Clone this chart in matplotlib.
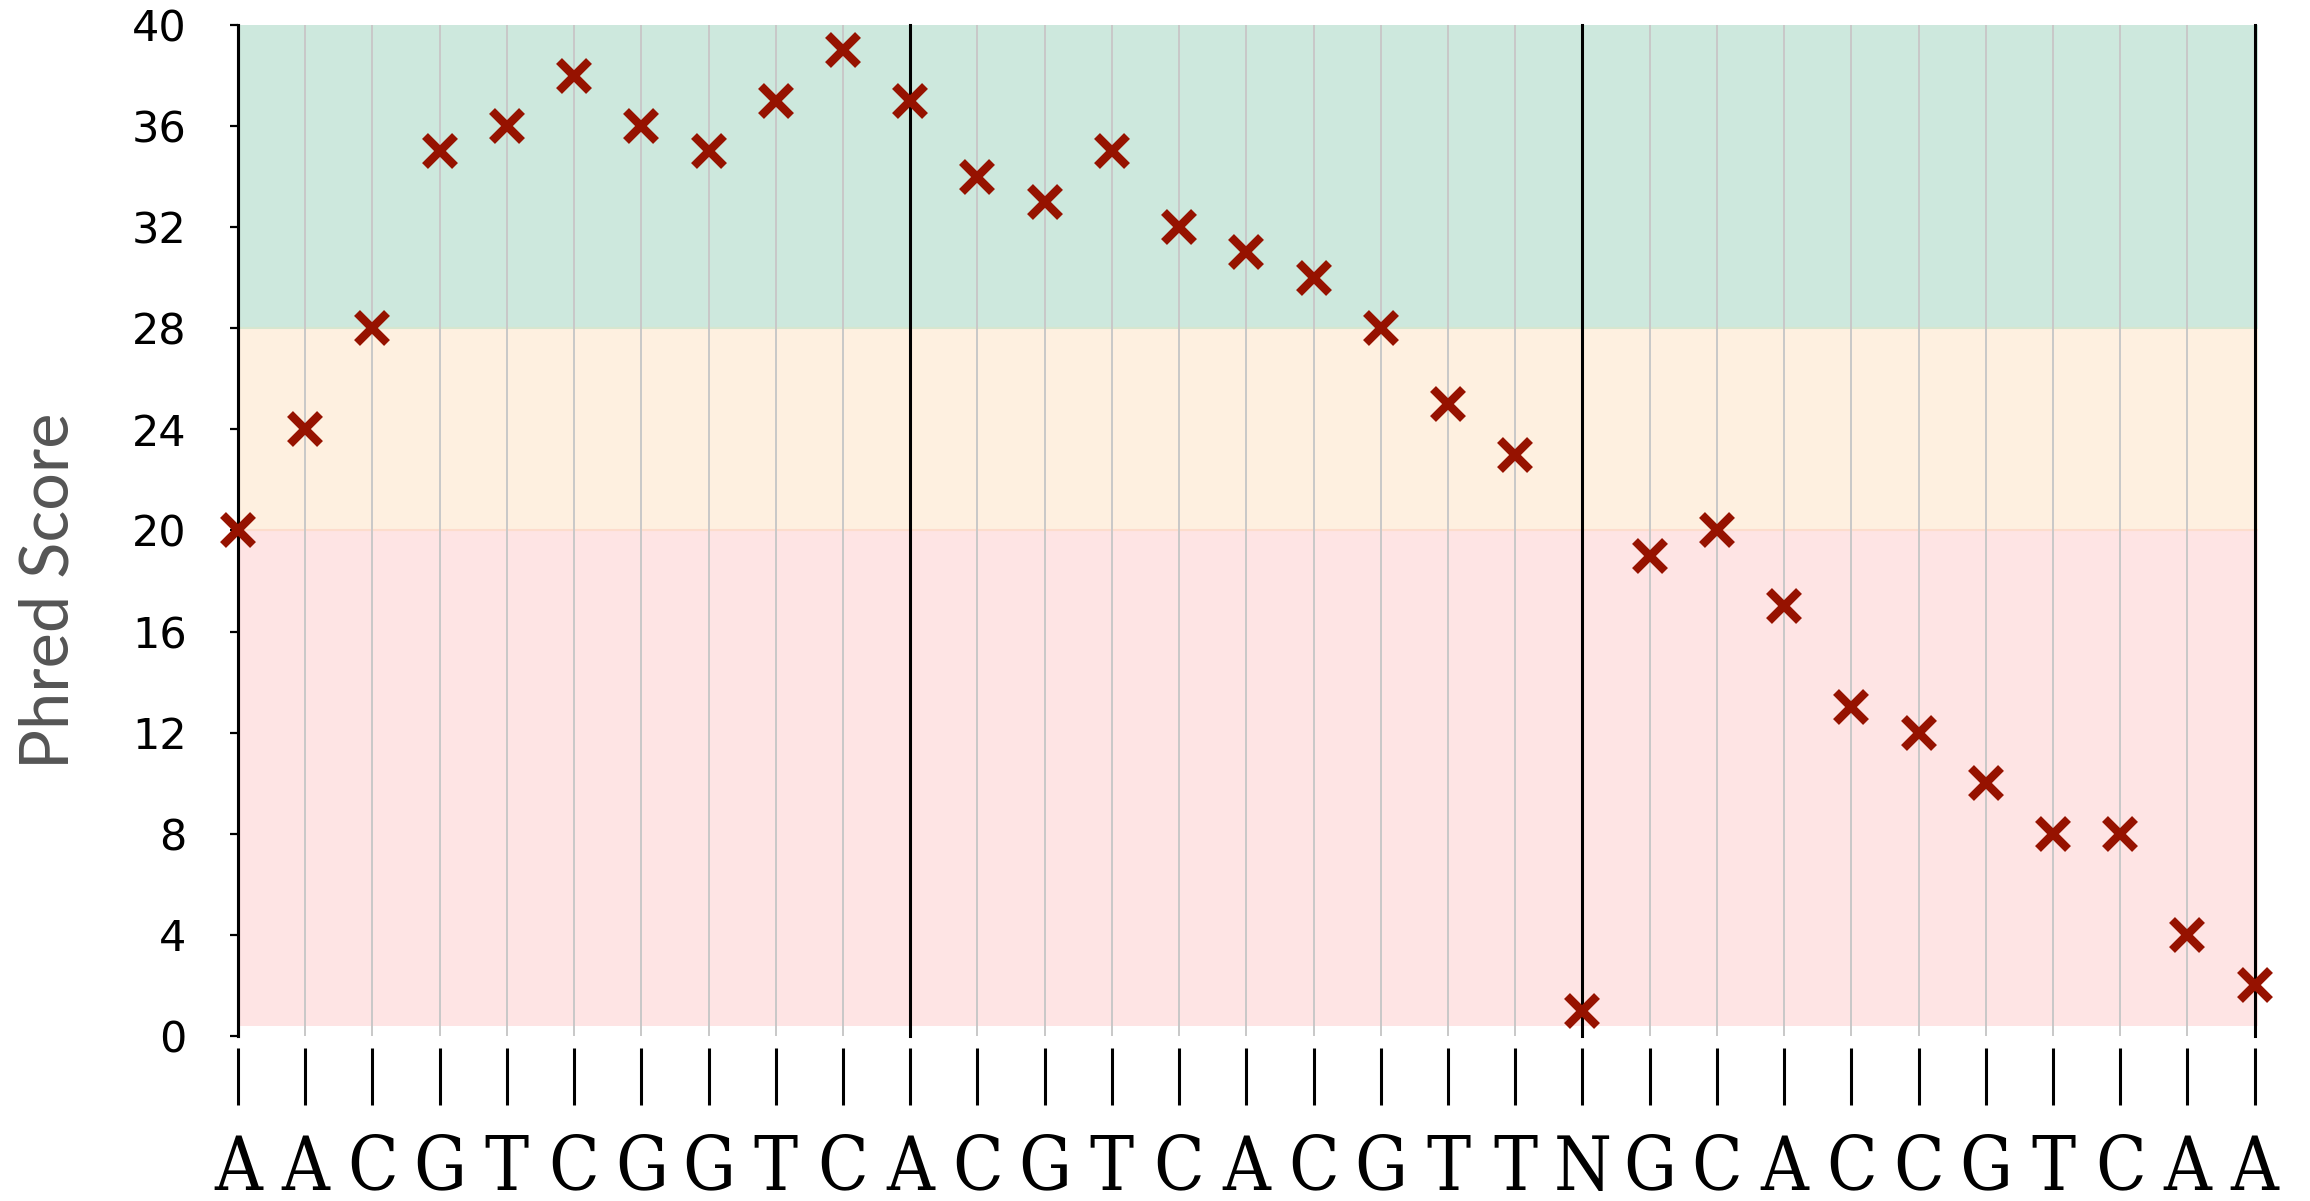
import numpy as np
import matplotlib
matplotlib.use("Agg")
import matplotlib.pyplot as plt

# read sequence + phred scores
bases = list("AACGTCGGTCACGTCACGTTNGCACCGTCAA")
scores = [20, 24, 28, 35, 36, 38, 36, 35, 37, 39,
          37, 34, 33, 35, 32, 31, 30, 28, 25, 23,
          1, 19, 20, 17, 13, 12, 10, 8, 8, 4, 2]
yticks = [0, 4, 8, 12, 16, 20, 24, 28, 32, 36, 40]

# quality bands (low, high, colour)
band_lo = [0.4, 20, 28]
band_hi = [20, 28, 40]
band_col = ["#fee4e4", "#fef0e0", "#cde8dd"]
band_edge = ["#fddccc", "#d6e6cf"]

pos = np.arange(len(bases))

fig = plt.figure(figsize=(23.1, 12.01), dpi=100)
ax = fig.add_axes([0.1030, 0.1374, 0.8745, 0.8418])

# spine stuff first (set_position resets the ticks)
ax.spines["top"].set_visible(False)
ax.spines["right"].set_visible(False)
ax.spines["bottom"].set_visible(False)
ax.spines["bottom"].set_position(("outward", 8.6))
ax.spines["left"].set_linewidth(2.2)

for lo, hi, c in zip(band_lo, band_hi, band_col):
    ax.axhspan(lo, hi, color=c, lw=0, zorder=0)
for y, c in zip(band_lo[1:], band_edge):
    ax.axhline(y, color=c, lw=1.5, zorder=0.5)

# light grid at every base, black line every 10
for p in pos:
    if p % 10 == 0:
        ax.axvline(p, color="black", lw=2.2, zorder=1, clip_on=False)
    else:
        ax.axvline(p, color="#c8c8c8", lw=1.4, zorder=1)

ax.plot(pos, scores, linestyle="none", marker="x", color="#961200",
        markersize=22, markeredgewidth=6, zorder=3, clip_on=False)

ax.set_xlim(0, len(bases) - 1 + 0.05)
ax.set_ylim(0, 40)

ax.set_yticks(yticks)
ax.tick_params(axis="y", length=6, width=1.6, labelsize=31, pad=31)

ax.set_xticks(pos)
ax.tick_params(axis="x", length=41, width=2.2, pad=20)
ax.set_xticklabels(bases, fontfamily="DejaVu Serif", fontweight="normal",
                   fontstretch="condensed", fontsize=53)

ax.set_ylabel("Phred Score", fontfamily="Lato", fontsize=48, color="#555555")
ax.yaxis.set_label_coords(-0.078, 0.44)

fig.savefig("out.png", dpi=100)
